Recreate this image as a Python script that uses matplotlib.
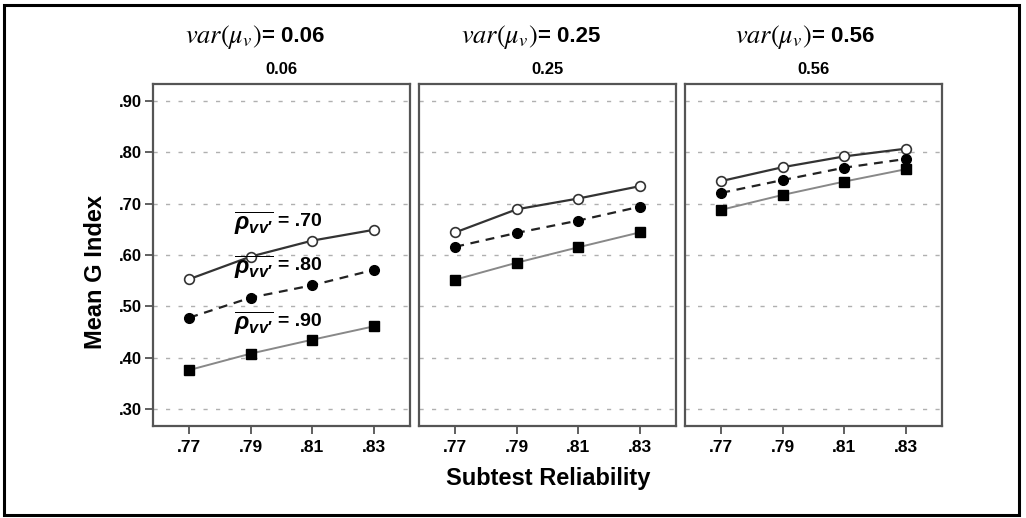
import matplotlib.pyplot as plt
from matplotlib.patches import Rectangle

plt.rcParams['font.family'] = ['Liberation Sans', 'DejaVu Sans']
plt.rcParams['mathtext.fontset'] = 'stix'
# bold italic sans for the rho labels (used through math_fontfamily='custom')
plt.rcParams['mathtext.it'] = 'Liberation Sans:italic:bold'
plt.rcParams['mathtext.rm'] = 'Liberation Sans:bold'
plt.rcParams['mathtext.bf'] = 'Liberation Sans:bold'

reliability = [0.77, 0.79, 0.81, 0.83]
var_labels = ['0.06', '0.25', '0.56']

# mean G index per panel, one list per rho level
rho70 = [
    [0.553, 0.597, 0.628, 0.649],
    [0.644, 0.689, 0.710, 0.734],
    [0.744, 0.771, 0.792, 0.807],
]
rho80 = [
    [0.478, 0.517, 0.541, 0.571],
    [0.616, 0.643, 0.667, 0.694],
    [0.721, 0.746, 0.770, 0.787],
]
rho90 = [
    [0.376, 0.408, 0.435, 0.461],
    [0.552, 0.585, 0.615, 0.644],
    [0.688, 0.717, 0.743, 0.767],
]
rho_labels = ['.70', '.80', '.90']
rho_label_y = [0.662, 0.576, 0.467]

y_ticks = [0.30, 0.40, 0.50, 0.60, 0.70, 0.80, 0.90]

fig = plt.figure(figsize=(10.26, 5.18), dpi=100)

W, H = 1026, 518
lefts = [153, 419, 685]
eq_x = [262, 538, 812]  # where "= 0.xx" begins in each big title
panel_w = 257
bottom, top = 426, 84

for i in range(3):
    ax = fig.add_axes([lefts[i] / W, (H - bottom) / H, panel_w / W, (bottom - top) / H])
    ax.plot(reliability, rho70[i], color='#333333', lw=1.6, marker='o', ms=7,
            mfc='white', mec='#333333', mew=1.2, zorder=3)
    ax.plot(reliability, rho80[i], color='#222222', lw=1.6, ls=(0, (4, 3)), marker='o',
            ms=7, mfc='black', mec='black', zorder=3)
    ax.plot(reliability, rho90[i], color='#888888', lw=1.4, marker='s', ms=6.5,
            mfc='black', mec='black', zorder=3)

    ax.set_xlim(0.7582, 0.8418)
    ax.set_ylim(0.267, 0.933)
    ax.set_xticks(reliability)
    ax.set_xticklabels(['.77', '.79', '.81', '.83'], fontsize=12.5, fontweight='bold')
    ax.set_yticks(y_ticks)
    for y in y_ticks:
        ax.axhline(y, color='#b0b0b0', lw=1.0, ls=(0, (3, 6)), zorder=1)

    if i == 0:
        ax.set_yticklabels(['.30', '.40', '.50', '.60', '.70', '.80', '.90'],
                           fontsize=12, fontweight='bold')
        ax.tick_params(axis='y', length=6, width=1.2, color='#444444', pad=2)
    else:
        ax.tick_params(axis='y', left=False, labelleft=False)
    ax.tick_params(axis='x', length=6, width=1.2, color='#444444', pad=4)

    for s in ax.spines.values():
        s.set_color('#555555')
        s.set_linewidth(1.6)

    fig.text(eq_x[i] / W, 1 - 37 / H, r'$var(\mu_v)$', fontsize=19,
             ha='right', va='center')
    fig.text(eq_x[i] / W, 1 - 37 / H, '= ' + var_labels[i], fontsize=16,
             fontweight='bold', ha='left', va='center')
    fig.text((lefts[i] + panel_w / 2) / W, 1 - 69 / H, var_labels[i],
             fontsize=12, fontweight='bold', ha='center', va='center')

    if i == 0:
        for lab, yy in zip(rho_labels, rho_label_y):
            ax.text(0.7845, yy, r'$\overline{\rho_{vv\prime}}$', fontsize=17,
                    math_fontfamily='custom', ha='left', va='center', zorder=4)
            ax.text(0.7990, yy + 0.004, '= ' + lab, fontsize=14, fontweight='bold',
                    ha='left', va='center', zorder=4)

fig.text(95 / W, 1 - 272 / H, 'Mean G Index', rotation=90, fontsize=17,
         fontweight='bold', ha='center', va='center')
fig.text(548 / W, 1 - 479 / H, 'Subtest Reliability', fontsize=17,
         fontweight='bold', ha='center', va='center')

fig.patches.append(Rectangle((4 / W, 3 / H), 1015 / W, 510 / H, transform=fig.transFigure,
                             fill=False, edgecolor='black', lw=2.2))

fig.savefig('out.png', dpi=100)
